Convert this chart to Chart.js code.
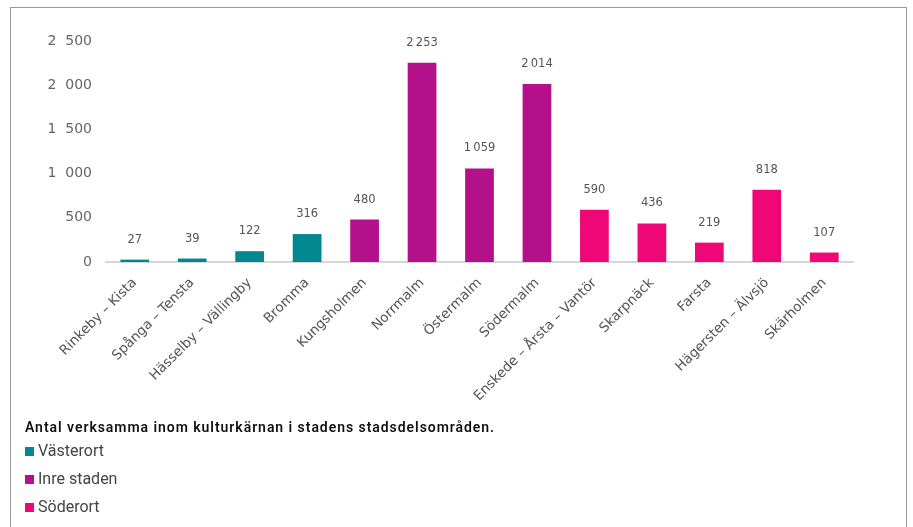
<!DOCTYPE html>
<html lang="sv">
<head>
<meta charset="utf-8">
<script src="https://cdn.jsdelivr.net/npm/chart.js@4.4.1/dist/chart.umd.min.js"></script>
<style>
  html, body { margin: 0; padding: 0; background: #fff; }
  body { width: 913px; height: 527px; position: relative; overflow: hidden; }
  #frame { position: absolute; left: 10px; top: 7px; width: 895px; height: 600px; border: 1px solid #999; pointer-events: none; }
  #chart { position: absolute; left: 0; top: 0; }
  .title { position: absolute; left: 25px; top: 418px; font: 600 14px Roboto, sans-serif; letter-spacing: 0.95px; color: #111; line-height: 18px; }
  .legend { position: absolute; left: 25px; top: 437px; font: 16px Roboto, sans-serif; color: #444; }
  .legend div { height: 28px; line-height: 20px; display: flex; align-items: center; }
  .legend span.sw { display: inline-block; width: 9px; height: 9px; margin-right: 4px; }
</style>
</head>
<body>
<canvas id="chart" width="913" height="410"></canvas>
<div id="frame"></div>
<div class="title">Antal verksamma inom kulturkärnan i stadens stadsdelsområden.</div>
<div class="legend" id="legend"></div>
<script>
const categories = ['Rinkeby – Kista', 'Spånga – Tensta', 'Hässelby – Vällingby', 'Bromma', 'Kungsholmen',
  'Norrmalm', 'Östermalm', 'Södermalm', 'Enskede – Årsta – Vantör', 'Skarpnäck', 'Farsta',
  'Hägersten – Älvsjö', 'Skärholmen'];
const values = [27, 39, 122, 316, 480, 2253, 1059, 2014, 590, 436, 219, 818, 107];
const regionOf = [0, 0, 0, 0, 1, 1, 1, 1, 2, 2, 2, 2, 2];
const regionNames = ['Västerort', 'Inre staden', 'Söderort'];
const regionColors = ['#00878f', '#b4108b', '#ef0677'];
const yTicks = [0, 500, 1000, 1500, 2000, 2500];

const fmtTick = v => v >= 1000 ? Math.floor(v / 1000) + '  ' + String(v % 1000).padStart(3, '0') : String(v);
const fmtValue = v => v >= 1000 ? Math.floor(v / 1000) + '\u2009' + String(v % 1000).padStart(3, '0') : String(v);

const valueLabels = {
  id: 'valueLabels',
  afterDatasetsDraw(chart) {
    const ctx = chart.ctx;
    const meta = chart.getDatasetMeta(0);
    ctx.save();
    ctx.font = '11.5px "DejaVu Sans", sans-serif';
    ctx.fillStyle = '#555';
    ctx.textAlign = 'center';
    ctx.textBaseline = 'middle';
    meta.data.forEach((bar, i) => {
      ctx.fillText(fmtValue(values[i]), bar.x, bar.y - 20);
    });
    ctx.restore();
  }
};

new Chart(document.getElementById('chart'), {
  type: 'bar',
  data: {
    labels: categories,
    datasets: [{
      data: values,
      backgroundColor: regionOf.map(r => regionColors[r]),
      categoryPercentage: 1,
      barPercentage: 0.5
    }]
  },
  options: {
    responsive: false,
    animation: false,
    layout: { padding: { top: 41, right: 60, left: 0, bottom: 0 } },
    plugins: { legend: { display: false }, tooltip: { enabled: false } },
    scales: {
      y: {
        min: 0,
        max: 2500,
        afterBuildTicks: s => { s.ticks = yTicks.map(v => ({ value: v })); },
        afterFit: s => { s.width = 106; },
        grid: { display: false },
        border: { display: false },
        ticks: {
          padding: 6,
          color: '#666',
          font: { family: '"DejaVu Sans", sans-serif', size: 14 },
          callback: v => fmtTick(v)
        }
      },
      x: {
        afterFit: s => { s.height = 148; },
        grid: { display: false },
        border: { color: '#d6d6d6', width: 2 },
        ticks: {
          minRotation: 45,
          maxRotation: 45,
          autoSkip: false,
          padding: 5,
          color: '#555',
          font: { family: '"DejaVu Sans", sans-serif', size: 13.5 }
        }
      }
    }
  },
  plugins: [valueLabels]
});

const legend = document.getElementById('legend');
regionNames.forEach((name, i) => {
  const row = document.createElement('div');
  row.innerHTML = '<span class="sw" style="background:' + regionColors[i] + '"></span>' + name;
  legend.appendChild(row);
});
</script>
</body>
</html>
